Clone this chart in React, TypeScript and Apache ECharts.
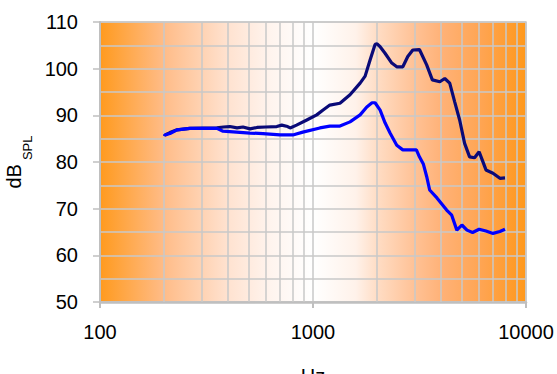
import React, { useEffect, useRef } from "react";
import * as echarts from "echarts";

const navyFreq = [200, 202, 213, 230, 264, 354, 380, 407, 440, 469, 506, 546, 600, 676, 713, 760, 781, 837, 935, 1041, 1111, 1200, 1338, 1492, 1664, 1757, 1855, 1956, 2000, 2066, 2179, 2344, 2473, 2641, 2786, 2941, 3160, 3417, 3633, 3939, 4155, 4384, 4626, 4881, 5150, 5435, 5734, 6025, 6235, 6488, 6998, 7543, 7969];
const navyDb = [86, 85.8, 86.3, 86.9, 87.2, 87.3, 87.5, 87.6, 87.3, 87.5, 87.1, 87.4, 87.5, 87.6, 87.9, 87.6, 87.3, 87.9, 89, 90.1, 91.1, 92.2, 92.6, 94.4, 96.9, 98.4, 101.9, 105.2, 105.3, 104.7, 103.3, 101.2, 100.4, 100.4, 102.6, 104, 104.1, 100.8, 97.6, 97.2, 97.9, 96.9, 92.9, 89, 84, 81.1, 80.9, 82.2, 80.4, 78.3, 77.6, 76.5, 76.6];

const blueFreq = [200, 202, 213, 230, 264, 354, 378, 506, 582, 700, 804, 896, 1077, 1200, 1338, 1492, 1664, 1789, 1893, 1956, 2066, 2179, 2300, 2473, 2641, 3058, 3160, 3300, 3417, 3529, 3818, 4241, 4480, 4734, 5000, 5284, 5614, 6025, 6488, 6998, 7543, 7969];
const blueDb = [86, 85.8, 86.1, 86.9, 87.2, 87.2, 86.6, 86.2, 86.1, 85.8, 85.8, 86.4, 87.3, 87.7, 87.7, 88.6, 90.1, 91.8, 92.7, 92.7, 91.1, 88.4, 86.2, 83.6, 82.6, 82.6, 81.1, 79.5, 76.9, 74, 72.3, 69.7, 68.6, 65.4, 66.5, 65.4, 64.9, 65.6, 65.2, 64.7, 65.1, 65.6];

const minorFreqs = [200, 300, 400, 500, 600, 700, 800, 900, 2000, 3000, 4000, 5000, 6000, 7000, 8000, 9000];

const xMin = 100;
const xMax = 10000;
const yMin = 50;
const yMax = 110;
const yStep = 10;

const FONT = "Liberation Sans, Arial, sans-serif";
const GRID = "#C8C8C8";

export default function App() {
  const ref = useRef<HTMLDivElement>(null);
  useEffect(() => {
    if (!ref.current) return;
    const chart = echarts.init(ref.current, null, { renderer: "svg" });
    const bg = new echarts.graphic.LinearGradient(0, 0, 1, 0, [
      { offset: 0, color: "#FF9A1E" },
      { offset: 0.15, color: "#FFBC88" },
      { offset: 0.3, color: "#FFE2D0" },
      { offset: 0.4, color: "#FFF4EE" },
      { offset: 0.5, color: "#FFFFFF" },
      { offset: 0.6, color: "#FFF2EA" },
      { offset: 0.65, color: "#FFDDC5" },
      { offset: 0.73, color: "#FFC49A" },
      { offset: 0.8, color: "#FFB278" },
      { offset: 0.9, color: "#FFA450" },
      { offset: 1, color: "#FF981A" },
    ]);
    chart.setOption({
      animation: false,
      grid: {
        left: 100,
        right: 31,
        top: 22,
        bottom: 72,
        outerBoundsMode: "none",
        containLabel: false,
        show: true,
        backgroundColor: bg,
        borderColor: GRID,
        borderWidth: 1.5,
      },
      xAxis: {
        type: "log",
        logBase: 10,
        min: xMin,
        max: xMax,
        name: "Hz",
        nameLocation: "middle",
        nameGap: 64,
        nameTextStyle: { fontFamily: FONT, fontSize: 20, color: "#000", verticalAlign: "top" },
        axisLine: { show: true, lineStyle: { color: "#BFBFBF", width: 2.5 } },
        axisTick: { show: true, length: 6, lineStyle: { color: "#BFBFBF", width: 2 } },
        axisLabel: {
          fontFamily: FONT,
          fontSize: 20,
          color: "#000",
          margin: 20,
          formatter: (v: number) => String(Math.round(v)),
        },
        splitLine: { show: true, lineStyle: { color: GRID, width: 1.5 } },
        minorTick: { show: false },
        minorSplitLine: { show: false },
      },
      yAxis: {
        type: "value",
        min: yMin,
        max: yMax,
        interval: yStep,
        name: "{a|dB}{b|SPL}",
        nameLocation: "middle",
        nameGap: 66,
        nameTextStyle: {
          fontFamily: FONT,
          color: "#000",
          rich: {
            a: { fontFamily: FONT, fontSize: 20, color: "#000", lineHeight: 30, verticalAlign: "top" },
            b: { fontFamily: FONT, fontSize: 13, color: "#000", lineHeight: 30, verticalAlign: "bottom", padding: [0, 0, 0, 4] },
          },
        },
        axisLine: { show: true, lineStyle: { color: "#BFBFBF", width: 2 } },
        axisTick: { show: true, length: 7, lineStyle: { color: "#BFBFBF", width: 1.5 } },
        axisLabel: { fontFamily: FONT, fontSize: 20, color: "#000", margin: 22 },
        splitLine: { show: true, lineStyle: { color: GRID, width: 1.5 } },
        minorTick: { show: false, splitNumber: 2 },
        minorSplitLine: { show: true, lineStyle: { color: GRID, width: 1.5 } },
      },
      series: [
        {
          type: "line",
          name: "navy",
          data: navyFreq.map((f, i) => [f, navyDb[i]]),
          showSymbol: false,
          lineStyle: { color: "#0A0A78", width: 3.2 },
          itemStyle: { color: "#0A0A78" },
          z: 3,
          markLine: {
            silent: true,
            symbol: "none",
            label: { show: false },
            lineStyle: { color: GRID, width: 1.5, type: "solid" },
            data: minorFreqs.map((f) => ({ xAxis: f })),
            z: 1,
          },
        },
        {
          type: "line",
          name: "blue",
          data: blueFreq.map((f, i) => [f, blueDb[i]]),
          showSymbol: false,
          lineStyle: { color: "#0000FF", width: 3.2 },
          itemStyle: { color: "#0000FF" },
          z: 4,
        },
      ],
    });
    return () => chart.dispose();
  }, []);
  return (
    <div
      ref={ref}
      style={{ position: "fixed", left: 0, top: 0, width: 557, height: 374, background: "#fff" }}
    />
  );
}
